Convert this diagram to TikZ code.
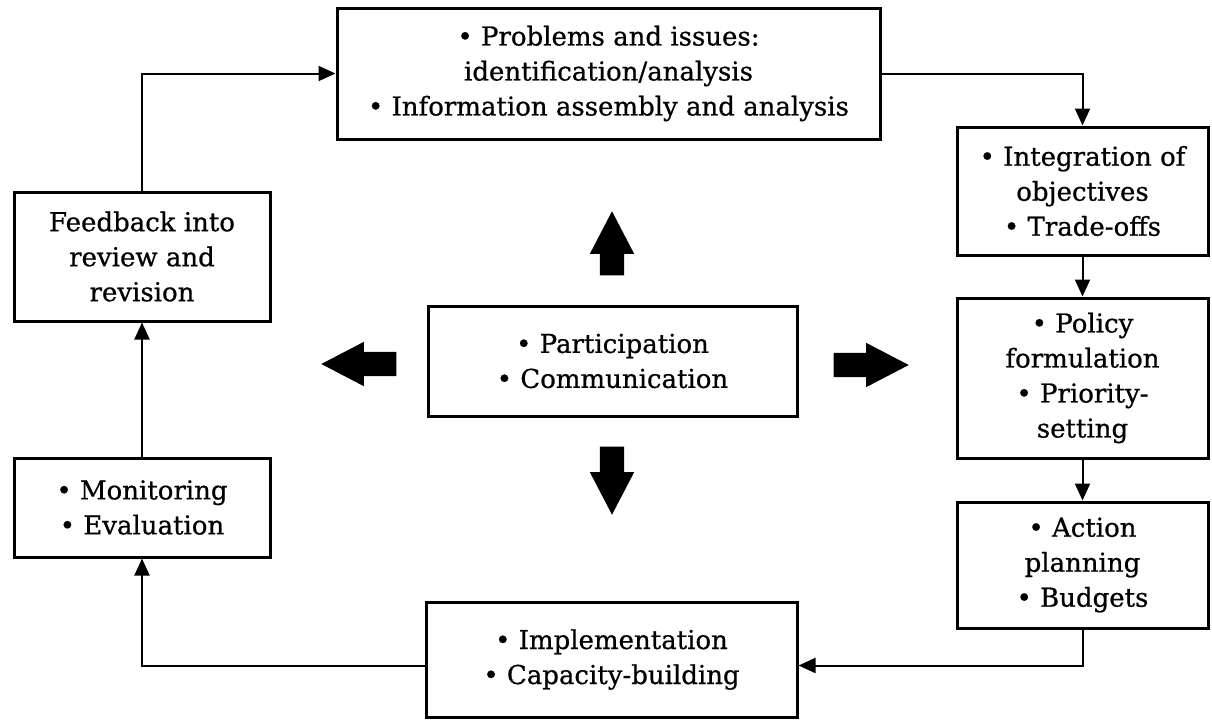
\documentclass[tikz,border=0pt]{standalone}
\usepackage{fontspec}
\setmainfont{DejaVu Serif}[FakeBold=0.7]
\usetikzlibrary{arrows.meta,shapes.arrows}

\tikzset{
  stage/.style={draw, line width=3pt, align=center, inner sep=2pt,
    font=\fontsize{26}{35}\selectfont},
  flow/.style={-{Triangle[length=17pt,width=15pt]}, line width=2pt},
  bigarrow/.style={single arrow, fill=black, draw=none, inner xsep=0pt,
    inner ysep=12pt, single arrow head extend=10pt,
    single arrow tip angle=55, single arrow head indent=0pt}
}

\begin{document}
\begin{tikzpicture}[x=1pt,y=-1pt]
  \useasboundingbox (0,0) rectangle (1212,721);
  % the cycle
  \node[stage, minimum width=543pt, minimum height=131pt] (issues) at (608.5,73.5)
    {• Problems and issues:\\identification/analysis\\• Information assembly and analysis};
  \node[stage, minimum width=251pt, minimum height=128pt] (integ) at (1082.5,191)
    {• Integration of\\objectives\\• Trade-offs};
  \node[stage, minimum width=251pt, minimum height=160pt] (policy) at (1082.5,378)
    {• Policy\\formulation\\• Priority-\\setting};
  \node[stage, minimum width=251pt, minimum height=126pt] (action) at (1082.5,565)
    {• Action\\planning\\• Budgets};
  \node[stage, minimum width=371pt, minimum height=115pt] (impl) at (611.5,659.5)
    {• Implementation\\• Capacity-building};
  \node[stage, minimum width=256pt, minimum height=99pt] (monit) at (142,507.5)
    {• Monitoring\\• Evaluation};
  \node[stage, minimum width=256pt, minimum height=129pt] (feedback) at (142,256.5)
    {Feedback into\\review and\\revision};
  % centre
  \node[stage, minimum width=369pt, minimum height=110pt] (partic) at (612.5,361)
    {• Participation\\• Communication};
  \node[bigarrow, minimum height=64pt, rotate=90] (up) at (612,255) {};
  \node[bigarrow, minimum height=68pt, rotate=-90] (down) at (612,469) {};
  \node[bigarrow, minimum height=75pt, rotate=180] (left) at (370.5,364) {};
  \node[bigarrow, minimum height=75pt] (right) at (859.5,365) {};

  \draw[flow] (feedback.north) |- (issues.west);
  \draw[flow] (issues.east) -| (integ.north);
  \draw[flow] (integ) -- (policy);
  \draw[flow] (policy) -- (action);
  \draw[flow] (action.south) |- ([yshift=-6pt]impl.east);
  \draw[flow] ([yshift=-6pt]impl.west) -| (monit.south);
  \draw[flow] (monit) -- (feedback);
\end{tikzpicture}
\end{document}
